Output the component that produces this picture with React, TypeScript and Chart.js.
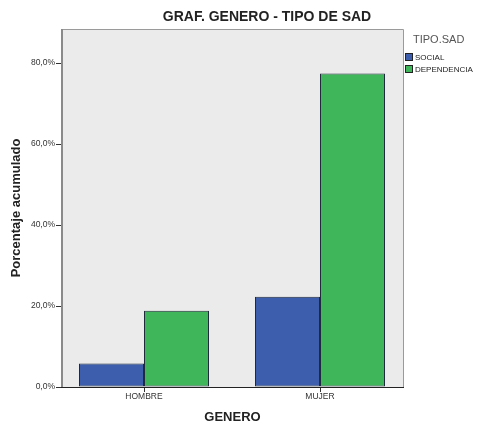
import React, { useEffect, useRef } from "react";
import { Chart, registerables } from "chart.js";

Chart.register(...registerables);

const categories = ["HOMBRE", "MUJER"];
const seriesNames = ["SOCIAL", "DEPENDENCIA"];
const socialValues = [5.8, 22.3];
const dependenciaValues = [18.8, 77.4];
const seriesColors = ["#3d5ead", "#40b65b"];
const yTickStep = 20;
const yMax = 88.4;
const chartTitle = "GRAF. GENERO - TIPO DE SAD";
const legendTitle = "TIPO.SAD";
const xTitle = "GENERO";
const yTitle = "Porcentaje acumulado";

const FONT = "'Liberation Sans', Arial, sans-serif";

const framePlugin = {
  id: "frame",
  beforeDraw(chart: any) {
    const { ctx, chartArea } = chart;
    const { left, top, right, bottom } = chartArea;
    ctx.save();
    ctx.fillStyle = "#ffffff";
    ctx.fillRect(0, 0, chart.width, chart.height);
    ctx.fillStyle = "#ebebeb";
    ctx.fillRect(left, top, right - left, bottom - top);
    ctx.restore();
  },
  afterDatasetsDraw(chart: any) {
    const { ctx, chartArea } = chart;
    const { left, top, right, bottom } = chartArea;
    ctx.save();
    ctx.strokeStyle = "#9a9a9a";
    ctx.lineWidth = 1;
    ctx.beginPath();
    ctx.moveTo(left, top + 0.5);
    ctx.lineTo(right + 0.5, top + 0.5);
    ctx.lineTo(right + 0.5, bottom);
    ctx.stroke();
    ctx.strokeStyle = "#8a8a8a";
    ctx.lineWidth = 2;
    ctx.beginPath();
    ctx.moveTo(left, top);
    ctx.lineTo(left, bottom);
    ctx.stroke();
    ctx.strokeStyle = "#222";
    ctx.lineWidth = 1;
    ctx.beginPath();
    ctx.moveTo(left - 1, bottom + 0.5);
    ctx.lineTo(right + 1, bottom + 0.5);
    ctx.stroke();
    ctx.restore();
  },
  afterDraw(chart: any) {
    const { ctx } = chart;
    ctx.save();
    ctx.fillStyle = "#222";
    ctx.font = `bold 14px ${FONT}`;
    ctx.textAlign = "center";
    ctx.textBaseline = "middle";
    ctx.fillText(chartTitle, 267, 17);
    ctx.fillStyle = "#555";
    ctx.font = `11px ${FONT}`;
    ctx.textAlign = "left";
    ctx.fillText(legendTitle, 413, 40);
    chart.data.datasets.forEach((ds: any, i: number) => {
      const y = 53 + i * 12;
      ctx.fillStyle = ds.backgroundColor;
      ctx.fillRect(405, y, 8, 8);
      ctx.strokeStyle = "#222";
      ctx.lineWidth = 1;
      ctx.strokeRect(405.5, y + 0.5, 7, 7);
      ctx.fillStyle = "#222";
      ctx.font = `8px ${FONT}`;
      ctx.fillText(ds.label, 415, y + 4.5);
    });
    ctx.restore();
  },
};

export default function App() {
  const ref = useRef<HTMLCanvasElement>(null);
  useEffect(() => {
    if (!ref.current) return;
    const seriesValues = [socialValues, dependenciaValues];
    const chart = new Chart(ref.current, {
      type: "bar",
      data: {
        datasets: seriesNames.map((name, s) => ({
          label: name,
          data: categories.map((_, i) => ({ x: i, y: seriesValues[s][i] })),
          backgroundColor: seriesColors[s],
          borderColor: "#1f2a3a",
          borderWidth: 1,
          borderSkipped: false,
          categoryPercentage: 130 / 176,
          barPercentage: 1,
        })),
      },
      options: {
        responsive: false,
        animation: false,
        events: [],
        layout: { padding: { top: 29, right: 74, left: 0, bottom: 0 } },
        plugins: {
          legend: { display: false },
          title: { display: false },
          tooltip: { enabled: false },
        },
        scales: {
          x: {
            type: "linear",
            offset: false,
            min: -82 / 176,
            max: 1 + 83 / 176,
            afterBuildTicks: (scale: any) => {
              scale.ticks = categories.map((_, i) => ({ value: i }));
            },
            afterFit: (scale: any) => {
              scale.height = 37;
            },
            border: { display: false },
            grid: {
              offset: false,
              drawOnChartArea: false,
              drawTicks: true,
              tickLength: 5,
              tickColor: "#333",
            },
            ticks: {
              autoSkip: false,
              maxRotation: 0,
              padding: 0,
              color: "#333",
              font: { family: FONT, size: 8.5 },
              callback: (v: any) => categories[Math.round(Number(v))] ?? "",
            },
            title: {
              display: true,
              text: xTitle,
              color: "#222",
              font: { family: FONT, size: 13, weight: "bold", lineHeight: 1 },
              padding: { top: 0, bottom: 0 },
            },
          },
          y: {
            type: "linear",
            min: 0,
            max: yMax,
            afterFit: (scale: any) => {
              scale.width = 62;
            },
            border: { display: false },
            grid: {
              drawOnChartArea: false,
              drawTicks: true,
              tickLength: 6,
              tickColor: "#333",
            },
            ticks: {
              stepSize: yTickStep,
              includeBounds: false,
              padding: 1,
              color: "#333",
              font: { family: FONT, size: 8.5 },
              callback: (v: any) => Number(v).toFixed(1).replace(".", ",") + "%",
            },
            title: {
              display: true,
              text: yTitle,
              color: "#222",
              font: { family: FONT, size: 13, weight: "bold", lineHeight: 1 },
              padding: { top: 10, bottom: 0 },
            },
          },
        },
      },
      plugins: [framePlugin],
    } as any);
    return () => chart.destroy();
  }, []);
  return (
    <div style={{ position: "fixed", left: 0, top: 0, width: 477, height: 424, background: "#fff" }}>
      <canvas ref={ref} width={477} height={424} style={{ display: "block" }} />
    </div>
  );
}
